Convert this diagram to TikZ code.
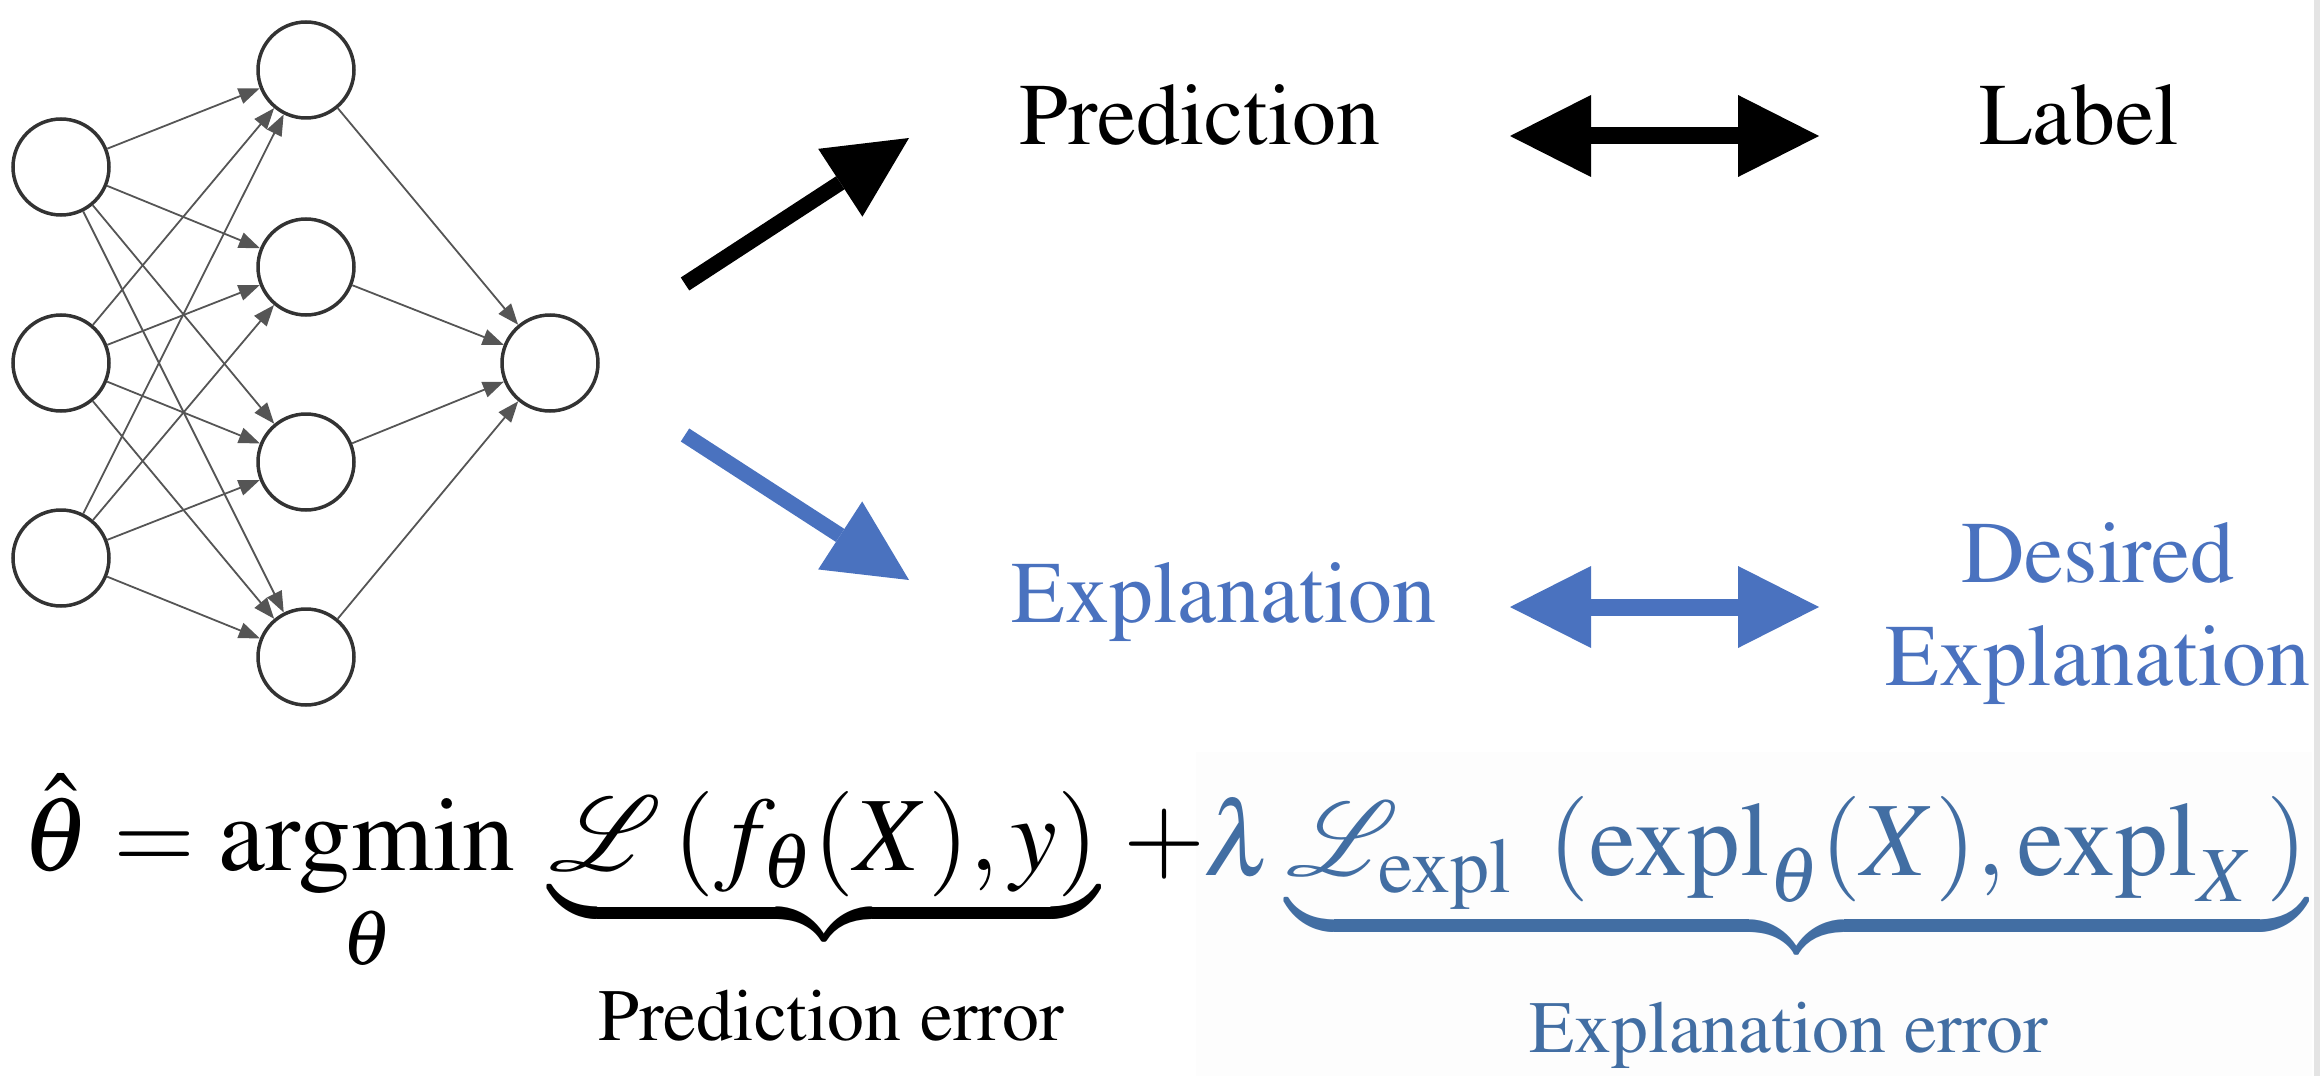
\documentclass[tikz,border=0pt]{standalone}
\usepackage[T1]{fontenc}
\usepackage{mathptmx}
\usetikzlibrary{arrows.meta}
\definecolor{nnline}{HTML}{555555}
\definecolor{nncirc}{HTML}{333333}
\definecolor{ablue}{HTML}{4A72BF}
\definecolor{fblue}{HTML}{426EA3}
\definecolor{bgbox}{HTML}{FDFDFD}
\definecolor{edgegray}{HTML}{E4E4E4}
\begin{document}
\begin{tikzpicture}[x=0.1mm,y=-0.1mm,
  neuron/.style={circle,draw=nncirc,line width=0.35mm,minimum size=9.6mm,inner sep=0pt},
  nnedge/.style={draw=nnline,line width=0.18mm,-{Triangle[length=2.1mm,width=1.6mm]}},
  bigarrow/.style={line width=1.55mm,-{Triangle[length=8.2mm,width=8.1mm,line width=0pt]}},
  dblarrow/.style={line width=1.7mm,{Triangle[length=8.1mm,width=8.2mm,line width=0pt]}-{Triangle[length=8.1mm,width=8.2mm,line width=0pt]}},
  lbl/.style={inner sep=0pt,font=\fontsize{25}{30}\selectfont},
  frm/.style={inner sep=0pt,font=\fontsize{30}{36}\selectfont},
  errlbl/.style={inner sep=0pt,anchor=base,font=\fontsize{21}{25}\selectfont}]
\useasboundingbox (0,0) rectangle (2322,1076);
% faint background of the blue formula part and right edge line
\fill[bgbox] (1196,752) rectangle (2312,1076);
\fill[edgegray] (2314,0) rectangle (2320,1076);

% neural network
\node[neuron] (i1) at (61,167) {};
\node[neuron] (i2) at (61,363) {};
\node[neuron] (i3) at (61,558) {};
\node[neuron] (h1) at (306,70) {};
\node[neuron] (h2) at (306,267) {};
\node[neuron] (h3) at (306,462) {};
\node[neuron] (h4) at (306,657) {};
\node[neuron] (o1) at (550,363) {};
\foreach \i in {i1,i2,i3}{
  \foreach \h in {h1,h2,h3,h4}{
    \draw[nnedge] (\i) -- (\h);
  }
}
\foreach \h in {h1,h2,h3,h4}{
  \draw[nnedge] (\h) -- (o1);
}

% big arrows
\coordinate (pt) at (685,284);
\coordinate (ph) at (909,138);
\coordinate (et) at (685,435);
\coordinate (eh) at (909,580);
\draw[bigarrow,black] (pt) -- (ph);
\draw[bigarrow,ablue] (et) -- (eh);

% texts
\node[lbl,anchor=base] (pred) at (1200,145) {Prediction};
\node[lbl,anchor=base] (lab) at (2079,145) {Label};
\node[lbl,anchor=base,text=ablue] (expl) at (1224,622) {Explanation};
\node[lbl,anchor=base,text=ablue] (des1) at (2098,582) {Desired};
\node[lbl,anchor=base,text=ablue] (des2) at (2098,685) {Explanation};

% double arrows
\coordinate (pa) at (1510,136);
\coordinate (pb) at (1819,136);
\coordinate (ea) at (1510,607);
\coordinate (eb) at (1819,607);
\draw[dblarrow,black] (pa) -- (pb);
\draw[dblarrow,ablue] (ea) -- (eb);

% formula
\node[frm,anchor=base west] (f1) at (22,870) {$\hat{\theta} = \mathop{\mathrm{argmin}}\limits_{\theta}$};
\node[frm,anchor=base west] (f2) at (549,870) {$\underbrace{\mathcal{L}\left(f_{\theta}(X), y\right)}$};
\node[frm,anchor=base] (fplus) at (1164,870) {$+$};
\node[frm,anchor=base west,text=fblue] (f3) at (1203,875) {$\lambda\underbrace{\mathcal{L}_{\mathrm{expl}}\;\left(\mathrm{expl}_{\theta}(X), \mathrm{expl}_{X}\,\right)}$};
\node[errlbl] (perr) at (831,1040) {Prediction error};
\node[errlbl,text=fblue] (eerr) at (1789,1052) {Explanation error};
\end{tikzpicture}
\end{document}
